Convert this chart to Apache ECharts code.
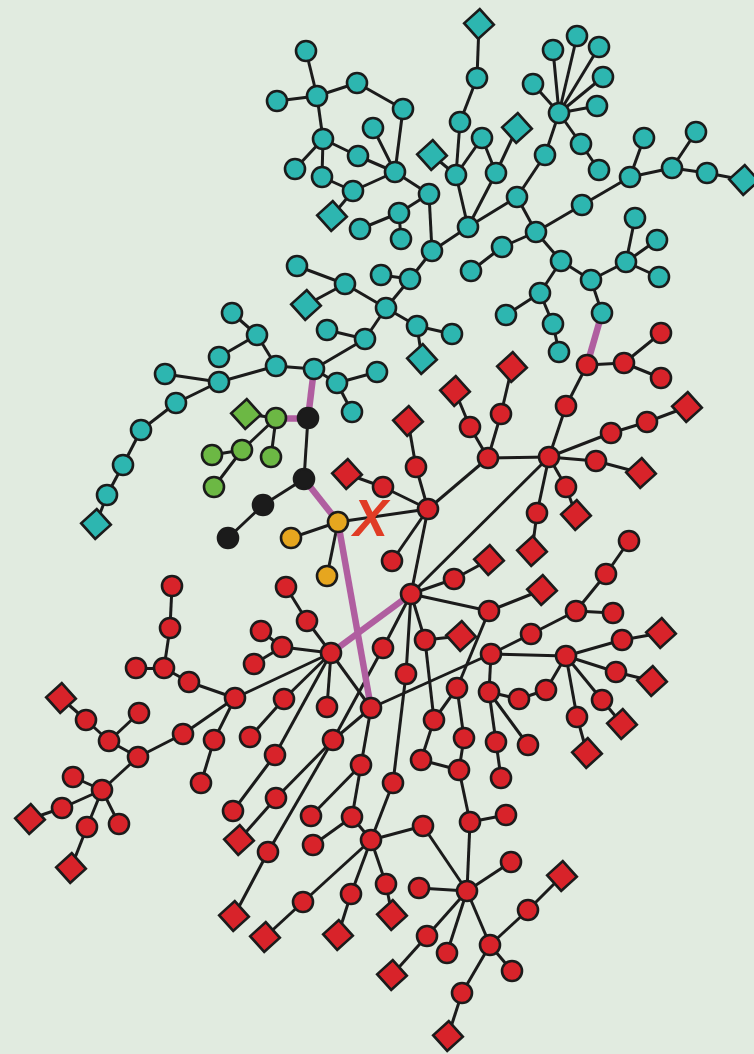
<!DOCTYPE html>
<html>
<head>
<meta charset="utf-8">
<script src="https://cdn.jsdelivr.net/npm/echarts@6/dist/echarts.min.js"></script>
<style>
html,body{margin:0;padding:0;background:#e1ebe0;}
#chart{width:754px;height:1054px;}
</style>
</head>
<body>
<div id="chart"></div>
<script>
// ---- DATA (node positions in the drawing's own coordinate space) ----
const tealNodes = [
 ['t1',306,51],['t2',317,96],['t3',277,101],['t4',357,83],['t5',323,139],['t6',295,169],['t7',322,177],['t8',358,156],['t9',353,191],['td1',332,216,'sq'],
 ['t10',360,229],['t11',373,128],['t12',403,109],['t13',395,172],['t14',429,194],['t15',399,213],['t16',401,239],['t17',432,251],['t18',468,227],['t19',456,175],
 ['t20',460,122],['td2',432,155,'sq'],['t21',482,138],['t22',496,173],['td3',517,128,'sq'],['td0',479,24,'sq'],['t23',477,78],['t24',517,197],['t25',545,155],['t26',559,113],
 ['t27',533,84],['t28',553,50],['t29',577,36],['t30',599,47],['t31',603,77],['t32',597,106],['t33',581,144],['t34',599,170],['t35',536,232],['t36',582,205],
 ['t37',630,177],['t38',644,138],['t39',672,168],['t40',696,132],['t41',707,173],['td4',744,180,'sq'],['t42',502,247],['t43',471,271],['t44',561,261],['t45',635,218],
 ['t46',657,240],['t47',626,262],['t48',381,275],['t49',410,279],['t50',591,280],['t51',659,277],['t52',540,293],['t53',506,315],['t54',553,324],['t55',559,352],
 ['t56',602,313],['t57',386,308],['t58',417,326],['t59',452,334],['td5',422,359,'sq'],['t63',314,369],['t64',337,383],['t65',352,412],['t66',377,372],['t67',297,266],
 ['t68',345,284],['td6',306,305,'sq'],['t70',327,330],['t71',365,339],['t75',276,366],['t76',257,335],['t77',232,313],['t78',219,357],['t79',219,382],['t80',165,374],
 ['t81',176,403],['t82',141,430],['t83',123,465],['t84',107,495],['td7',96,524,'sq']
];
const greenNodes = [['gd',246,414,'sq'],['g1',276,418],['g2',242,450],['g3',271,457],['g4',212,455],['g5',214,487]];
const blackNodes = [['b1',308,418],['b2',304,479],['b3',263,505],['b4',228,538]];
const orangeNodes = [['o1',338,522],['o2',291,538],['o3',327,576]];
const redNodes = [
 ['r1',587,365],['r2',624,363],['r3',661,333],['r4',661,378],['r5',566,406],['rh1',549,457],['r6',611,433],['r7',647,422],['rd1',687,407,'sq'],['r8',596,461],
 ['rd2',641,473,'sq'],['r9',566,487],['rd3',576,515,'sq'],['r10',537,513],['rd20',532,551,'sq'],['rh2',488,458],['r11',470,427],['rd4',455,391,'sq'],['r12',501,414],['rd5',512,367,'sq'],
 ['rh3',428,509],['r13',416,467],['rd6',408,421,'sq'],['r14',383,487],['rd7',347,474,'sq'],['r16',392,561],['rh4',411,594],['r73',454,579],['rd19',489,560,'sq'],['r75',489,611],
 ['rd22',542,590,'sq'],['r76',425,640],['rd23',461,636,'sq'],['r77',383,648],['r78',406,674],['r65',393,783],['rh6',331,653],['r25',286,587],['r26',307,621],['r27',261,631],
 ['r28',282,647],['r29',254,664],['r30',284,699],['r31',250,737],['r32',327,707],['r33',333,740],['r35',361,765],['r36',275,755],['rh7',371,708],['rh5',235,698],
 ['r20',172,586],['r21',170,628],['r22',164,668],['r23',136,668],['r24',189,682],['r37',214,740],['r38',201,783],['r39',183,734],['r40',138,757],['r41',109,741],
 ['r42',86,720],['rd8',61,698,'sq'],['r43',139,713],['r44',73,777],['r45',102,790],['r46',62,808],['rd9',30,819,'sq'],['r47',87,827],['rd10',71,868,'sq'],['r48',119,824],
 ['r50',233,811],['r51',276,798],['rd11',239,840,'sq'],['r52',268,852],['rd12',234,916,'sq'],['r53',311,816],['r54',352,817],['r55',371,840],['r56',313,845],['r57',303,902],
 ['rd13',265,937,'sq'],['r58',351,894],['rd14',338,935,'sq'],['r59',423,826],['r61',386,884],['rd15',392,915,'sq'],['rh8',467,891],['r62',419,888],['r63',427,936],['rd16',392,975,'sq'],
 ['r64',447,953],['r66',470,822],['r67',506,815],['r68',511,862],['rh9',490,945],['r69',528,910],['rd17',562,876,'sq'],['r70',512,971],['r71',462,993],['rd18',448,1036,'sq'],
 ['r84',459,770],['r85',501,778],['r86',421,760],['r87',464,738],['r88',434,720],['r89',457,688],['r90',489,692],['r91',496,742],['r92',528,745],['r93',519,699],
 ['r94',546,690],['rh10',491,654],['r95',531,634],['r96',576,611],['r97',606,574],['r98',629,541],['r99',613,613],['rh11',566,656],['r100',622,640],['rd24',661,633,'sq'],
 ['r101',616,672],['rd25',652,681,'sq'],['r102',602,700],['rd26',622,724,'sq'],['r103',577,717],['rd27',587,753,'sq']
];
const tealEdges = ['t1 t2','t3 t2','t2 t4','t2 t5','t5 t6','t5 t7','t5 t8','t7 t9','t9 td1','t4 t12','t12 t13','t11 t13','t8 t13','t9 t13','t13 t14','t14 t15','t15 t10','t15 t16','t14 t17','t17 t18','t17 t49','t18 t19','t19 td2','t19 t20','t20 t23','t23 td0','t19 t21','t18 t22','t22 t21','t22 td3','t18 t24','t24 t25','t25 t26','t26 t27','t26 t28','t26 t29','t26 t30','t26 t31','t26 t32','t26 t33','t33 t34','t24 t35','t35 t36','t36 t37','t37 t38','t37 t39','t39 t40','t39 t41','t41 td4','t35 t42','t42 t43','t35 t44','t44 t50','t50 t47','t47 t45','t47 t46','t47 t51','t50 t56','t44 t52','t52 t53','t52 t54','t54 t55','t48 t49','t49 t57','t57 t68','t67 t68','t68 td6','t57 t58','t58 t59','t58 td5','t57 t71','t70 t71','t71 t63','t63 t64','t64 t66','t64 t65','t63 t75','t75 t76','t76 t77','t76 t78','t75 t79','t79 t80','t79 t81','t81 t82','t82 t83','t83 t84','t84 td7'];
const smallEdges = ['gd g1','g1 g2','g1 g3','g2 g4','g2 g5','b1 b2','b2 b3','b3 b4','o1 o2','o1 o3','o1 rh3'];
const redEdges = ['r1 r2','r2 r3','r2 r4','r1 r5','r5 rh1','rh1 r6','r6 r7','r7 rd1','rh1 r8','r8 rd2','rh1 r9','r9 rd3','rh1 r10','r10 rd20','rh1 rh2','rh2 r11','r11 rd4','rh2 r12','r12 rd5','rh2 rh3','rh3 r13','r13 rd6','rh3 r14','r14 rd7','rh3 r16','rh3 rh4','rh1 rh4','rh4 r73','r73 rd19','rh4 r75','r75 rd22','rh4 r76','r76 rd23','rh4 r77','rh4 r78','r78 r65','r77 r33','r25 r26','r26 rh6','r27 r28','r29 r28','r28 rh6','rh6 rh5','rh6 r30','r30 r31','rh6 r32','rh6 r36','rh6 rh7','rh7 r35','rh7 rh10','rh7 r33','rh5 r24','r24 r22','r22 r21','r21 r20','r22 r23','rh5 r37','r37 r38','rh5 r39','r39 r40','r40 r41','r41 r42','r42 rd8','r41 r43','r40 r45','r44 r45','r45 r46','r46 rd9','r45 r47','r47 rd10','r45 r48','r36 r50','r51 r33','r51 rd11','r52 r33','r52 rd12','r53 r35','r54 r35','r56 r54','r55 r54','r55 r65','r55 r57','r57 rd13','r55 r58','r58 rd14','r55 r61','r61 rd15','r55 r59','r59 rh8','rh8 r62','rh8 r63','r63 rd16','rh8 r64','rh8 r66','r66 r67','r66 r84','rh8 r68','rh8 rh9','rh9 r69','r69 rd17','rh9 r70','rh9 r71','r71 rd18','r84 r86','r84 r87','r86 r88','r88 r76','r88 r89','r89 r87','r89 r75','rh10 r90','r90 r91','r91 r85','r90 r92','r90 r93','r93 r94','r94 rh11','rh10 r95','r95 r96','r96 r97','r97 r98','r96 r99','rh10 rh11','rh11 r100','r100 rd24','rh11 r101','r101 rd25','rh11 r102','r102 rd26','rh11 r103','r103 rd27'];
const bridgeEdges = ['t63 b1','g1 b1','b2 o1','o1 rh7','rh6 rh4','t56 r1'];
const markLabel = 'X';

// ---- BUILD ----
const groups = [
 [tealNodes,'#2db6b0'],[greenNodes,'#6cb844'],[blackNodes,'#1b1b1b'],[orangeNodes,'#e6a61f'],[redNodes,'#d8232a']
];
const nodes = [];
const index = {};
groups.forEach(([list,color])=>{
  list.forEach(n=>{
    index[n[0]] = nodes.length;
    const sq = n[3]==='sq';
    const item = {
      name:n[0], value:[n[1],n[2]],
      symbol: sq ? 'rect' : 'circle',
      symbolSize: sq ? 21 : 20,
      symbolRotate: sq ? 42 : 0,
      itemStyle:{color:color, borderColor:'#1b1b1b', borderWidth:2.6}
    };
    if(n[0]==='o1'){
      item.label = {show:true, formatter:markLabel, position:'right', distance:4,
        color:'#e03c25', fontSize:52, fontWeight:'bold', fontStyle:'italic',
        fontFamily:'Liberation Sans, Arial, sans-serif'};
    }
    nodes.push(item);
  });
});
const links = [];
function addEdges(list, style){
  list.forEach(e=>{
    const [a,b] = e.split(' ');
    links.push({source:index[a], target:index[b], lineStyle:style});
  });
}
addEdges(tealEdges.concat(smallEdges, redEdges), {color:'#1b1b1b', width:3, opacity:1});
addEdges(bridgeEdges, {color:'#b05ea0', width:6.5, opacity:1});

const chart = echarts.init(document.getElementById('chart'));
chart.setOption({
  backgroundColor:'#e1ebe0',
  animation:false,
  grid:{left:0,right:0,top:0,bottom:0},
  xAxis:{type:'value',min:0,max:754,show:false},
  yAxis:{type:'value',min:0,max:1054,inverse:true,show:false},
  series:[{
    type:'graph',
    coordinateSystem:'cartesian2d',
    layout:'none',
    data:nodes,
    links:links,
    label:{show:false},
    emphasis:{disabled:true}
  }]
});
</script>
</body>
</html>
